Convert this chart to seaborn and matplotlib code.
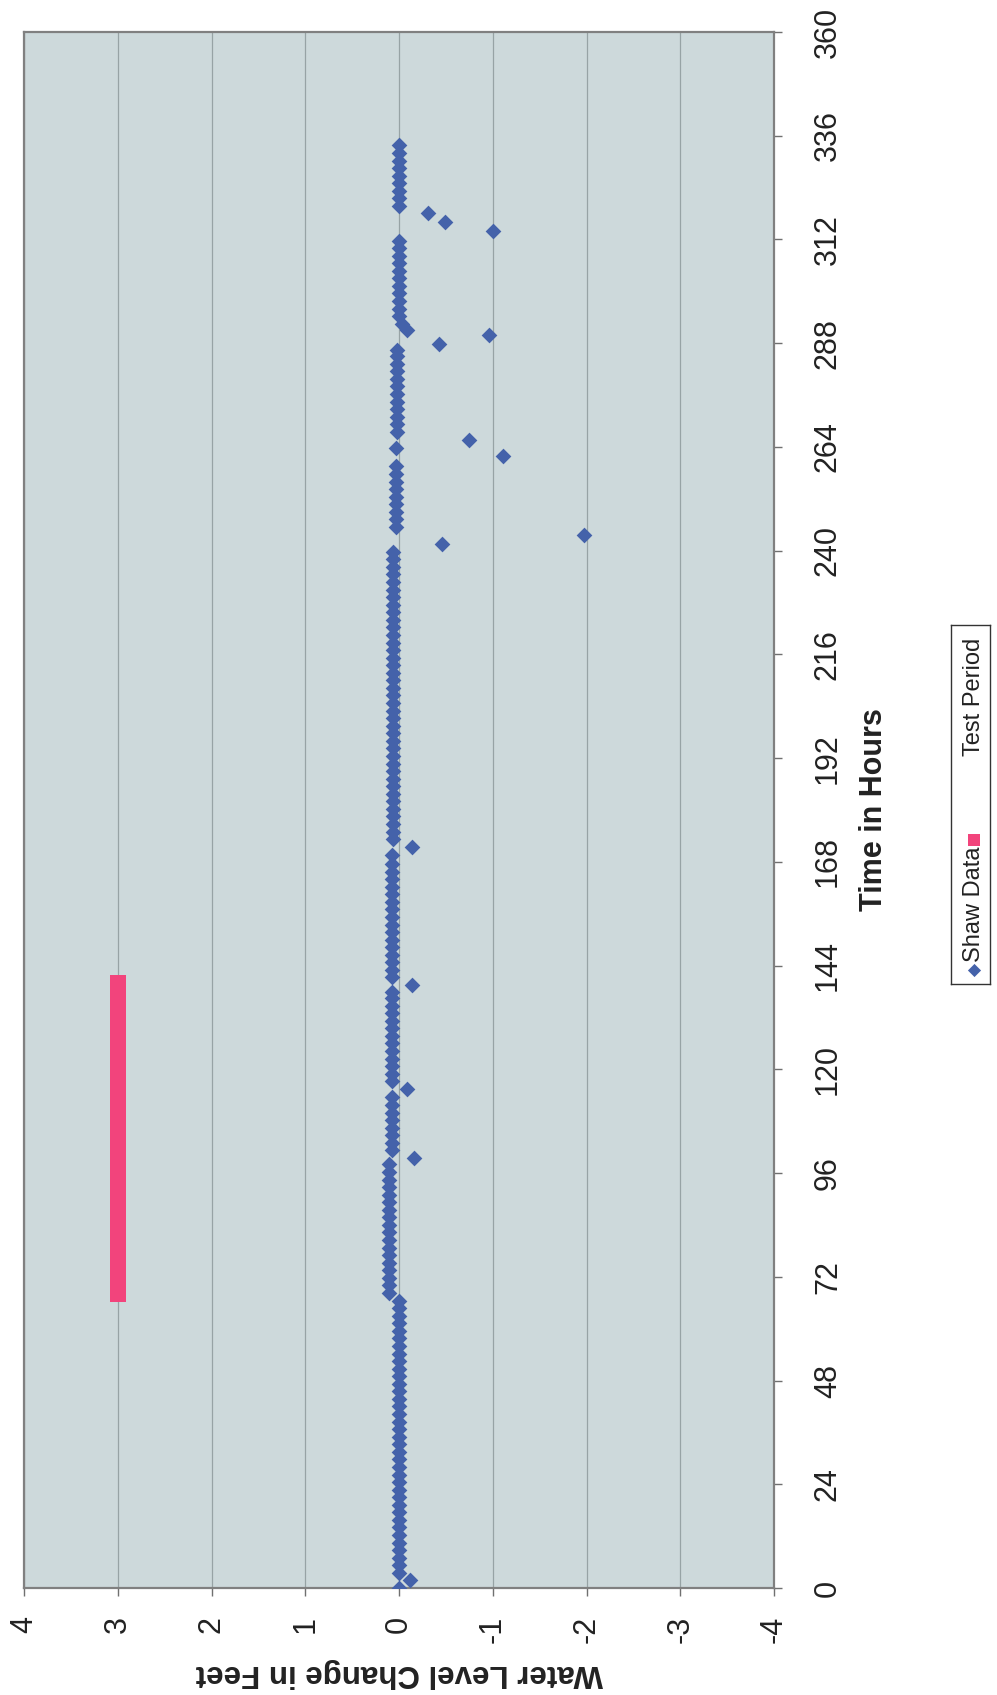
import matplotlib
matplotlib.use("Agg")
import matplotlib.pyplot as plt
import seaborn as sns
import pandas as pd

# ---------------- data ----------------
shaw_hours = [
    0.0, 1.85, 3.5, 5.25, 7.0, 8.75, 10.5, 12.25, 14.0, 15.75, 17.5, 19.25, 21.0, 22.75,
    24.5, 26.25, 28.0, 29.75, 31.5, 33.25, 35.0, 36.75, 38.5, 40.25, 42.0, 43.75, 45.5,
    47.25, 49.0, 50.75, 52.5, 54.25, 56.0, 57.75, 59.5, 61.25, 63.0, 64.75, 66.5,
    68.25, 70.0, 71.75, 73.5, 75.25, 77.0, 78.75, 80.5, 82.25, 84.0, 85.75, 87.5, 89.25,
    91.0, 92.75, 94.5, 96.25, 98.0,
    99.6,
    101.25, 103.0, 104.75, 106.5, 108.25, 110.0, 111.75, 113.5,
    115.5,
    117.25, 119.0, 120.75, 122.5, 124.25, 126.0, 127.75, 129.5, 131.25, 133.0, 134.75,
    136.5, 138.0,
    139.6,
    141.25, 143.0, 144.75, 146.5, 148.25, 150.0, 151.75, 153.5, 155.25, 157.0, 158.75,
    160.5, 162.25, 164.0, 165.75, 167.5, 169.5,
    171.5,
    173.25, 175.0, 176.75, 178.5, 180.25, 182.0, 183.75, 185.5, 187.25, 189.0, 190.75,
    192.5, 194.25, 196.0, 197.75, 199.5, 201.25, 203.0, 204.75, 206.5, 208.25, 210.0,
    211.75, 213.5, 215.25, 217.0, 218.75, 220.5, 222.25, 224.0, 225.75, 227.5, 229.25,
    231.0, 232.75, 234.5, 236.25, 238.0, 239.75,
    241.6, 243.6,
    245.5, 247.25, 249.0, 250.75, 252.5, 254.25, 256.0, 257.75, 259.5,
    261.8, 263.8, 265.7,
    267.5, 269.25, 271.0, 272.75, 274.5, 276.25, 278.0, 279.75, 281.5, 283.25, 285.0, 286.5,
    287.9, 289.9, 291.0, 292.5,
    294.25, 296.0, 297.75, 299.5, 301.25, 303.0, 304.75, 306.5, 308.25, 310.0, 311.75,
    314.0, 316.0, 318.1,
    319.75, 321.5, 323.25, 325.0, 326.75, 328.5, 330.25, 332.0, 333.75,
]
shaw_level = [
    0.0, -0.12, 0.0, 0.0, 0.0, 0.0, 0.0, 0.0, 0.0, 0.0, 0.0, 0.0, 0.0, 0.0,
    0.0, 0.0, 0.0, 0.0, 0.0, 0.0, 0.0, 0.0, 0.0, 0.0, 0.0, 0.0, 0.0,
    0.0, 0.0, 0.0, 0.0, 0.0, 0.0, 0.0, 0.0, 0.0, 0.0, 0.0, 0.0,
    0.11, 0.11, 0.11, 0.11, 0.11, 0.11, 0.11, 0.11, 0.11, 0.11, 0.11, 0.11, 0.11,
    0.11, 0.11, 0.11, 0.11, 0.11,
    -0.16,
    0.08, 0.08, 0.08, 0.08, 0.08, 0.08, 0.08, 0.08,
    -0.08,
    0.08, 0.08, 0.08, 0.08, 0.08, 0.08, 0.08, 0.08, 0.08, 0.08, 0.08,
    0.08, 0.08,
    -0.14,
    0.07, 0.07, 0.07, 0.07, 0.07, 0.07, 0.07, 0.07, 0.07, 0.07, 0.07,
    0.07, 0.07, 0.07, 0.07, 0.07, 0.07,
    -0.14,
    0.06, 0.06, 0.06, 0.06, 0.06, 0.06, 0.06, 0.06, 0.06, 0.06, 0.06,
    0.06, 0.06, 0.06, 0.06, 0.06, 0.06, 0.06, 0.06, 0.06, 0.06, 0.06,
    0.06, 0.06, 0.06, 0.06, 0.06, 0.06, 0.06, 0.06, 0.06, 0.06, 0.06,
    0.06, 0.06, 0.06, 0.06, 0.06, 0.06,
    -0.46, -1.97,
    0.03, 0.03, 0.03, 0.03, 0.03, 0.03, 0.03, 0.03, 0.03,
    -1.11, 0.03, -0.75,
    0.02, 0.02, 0.02, 0.02, 0.02, 0.02, 0.02, 0.02, 0.02, 0.02, 0.02, 0.02,
    -0.43, -0.96, -0.08, -0.03,
    0.0, 0.0, 0.0, 0.0, 0.0, 0.0, 0.0, 0.0, 0.0, 0.0, 0.0,
    -1.0, -0.49, -0.31,
    0.0, 0.0, 0.0, 0.0, 0.0, 0.0, 0.0, 0.0, 0.0,
]
test_hours = [68, 70, 72, 74, 76, 78, 80, 82, 84, 86, 88, 90, 92, 94, 96, 98, 100,
              102, 104, 106, 108, 110, 112, 114, 116, 118, 120, 122, 124, 126, 128,
              130, 132, 134, 136, 138, 140]
test_level = 3.0

level_ticks = [4, 3, 2, 1, 0, -1, -2, -3, -4]
level_labels = ["4", "3", "2", "1", "0", "-1", "-2", "-3", "-4"]
hour_ticks = [0, 24, 48, 72, 96, 120, 144, 168, 192, 216, 240, 264, 288, 312, 336, 360]
hour_labels = [str(h) for h in hour_ticks]

series_names = ["Shaw Data", "Test Period"]
x_title = "Water Level Change in Feet"
y_title = "Time in Hours"

# ---------------- style ----------------
BLUE = "#4462aa"
PINK = "#f2447c"
BG = "#cdd9db"
GRID = "#97a3a5"

sns.set_style("white")
plt.rcParams["font.family"] = ["Liberation Sans", "DejaVu Sans"]

W, H = 997, 1695
fig = plt.figure(figsize=(W / 100, H / 100), dpi=100)
L, R, T, B = 24, 774, 32, 1588
ax = fig.add_axes([L / W, 1 - B / H, (R - L) / W, (B - T) / H])
ax.set_facecolor(BG)

shaw_df = pd.DataFrame({"level": shaw_level, "hours": shaw_hours})
test_df = pd.DataFrame({"level": [test_level] * len(test_hours), "hours": test_hours})

sns.scatterplot(data=test_df, x="level", y="hours", marker="s", s=140, color=PINK,
                linewidth=0, ax=ax, zorder=3)
sns.scatterplot(data=shaw_df, x="level", y="hours", marker="D", s=64, color=BLUE,
                linewidth=0, ax=ax, zorder=4)

ax.set_xlim(4, -4)
ax.set_ylim(0, 360)
ax.set_xticks(level_ticks)
ax.set_xticklabels(level_labels)
ax.set_yticks(hour_ticks)
ax.set_yticklabels(hour_labels)
ax.yaxis.tick_right()
ax.yaxis.set_label_position("right")

ax.grid(axis="x", color=GRID, lw=0.9, zorder=0)
ax.grid(axis="y", visible=False)
ax.set_axisbelow(True)

for sp in ax.spines.values():
    sp.set_color("#808080")
    sp.set_linewidth(1.6)

ax.tick_params(axis="both", direction="out", length=6, width=1, color="#707070",
               labelsize=22, labelcolor="#222222")
ax.tick_params(axis="x", bottom=True, pad=14, labelrotation=90)
ax.tick_params(axis="y", right=True, left=False, pad=22, labelrotation=90)
for tk in ax.yaxis.get_major_ticks():
    tk.label2.set_va("center")
    tk.label2.set_ha("left")

ax.set_xlabel(x_title, fontsize=22.5, fontweight="bold", rotation=180, color="#222222",
              ha="center", va="center")
ax.xaxis.set_label_coords(0.5, -(1673 - B) / (B - T))
ax.set_ylabel(y_title, fontsize=22, fontweight="bold", rotation=90, color="#222222",
              ha="center", va="center")
ax.yaxis.set_label_coords((874 - L) / (R - L), 0.5)

# ---------------- legend (rotated, like the page) ----------------
lx0, lx1, ly0, ly1 = 951, 990, 625, 984
lax = fig.add_axes([lx0 / W, 1 - ly1 / H, (lx1 - lx0) / W, (ly1 - ly0) / H])
lax.set_xlim(0, 1)
lax.set_ylim(0, 1)
lax.set_xticks([])
lax.set_yticks([])
lax.set_facecolor("white")
for sp in lax.spines.values():
    sp.set_color("#333333")
    sp.set_linewidth(1.0)
xc = 0.6
lax.scatter([xc], [0.04], marker="D", s=45, color=BLUE, linewidth=0)
lax.text(xc, 0.222, series_names[0], rotation=90, ha="center", va="center",
         fontsize=17, color="#222222")
lax.scatter([xc], [0.40], marker="s", s=75, color=PINK, linewidth=0)
lax.text(xc, 0.80, series_names[1], rotation=90, ha="center", va="center",
         fontsize=17, color="#222222")

fig.savefig("out.png", dpi=100, facecolor="white")
